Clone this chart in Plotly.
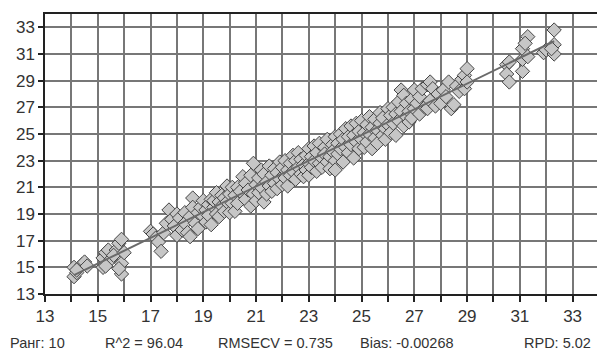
import numpy as np
import plotly.graph_objects as go

# Reference vs predicted values
ref_x = [
    14.1, 14.1, 14.2, 14.4, 14.5, 14.6, 14.2,
    15.2, 15.2, 15.3, 15.4, 15.5, 15.3, 15.7, 15.8, 15.9, 15.9, 15.9, 15.8, 15.6, 16.0,
    17.0, 17.1, 17.2, 17.3, 17.4, 17.5, 17.6, 17.7, 17.8, 17.9, 18.0, 18.0, 18.1, 18.2, 18.3, 18.3, 18.4, 18.5, 18.5, 18.6,
    18.6, 18.7, 18.8, 18.8, 18.9, 19.0, 19.0, 19.1, 19.1, 19.2, 19.2, 19.3, 19.3, 19.4, 19.4, 19.5, 19.5, 19.6, 19.6,
    19.7, 19.7, 19.8, 19.8, 19.9, 19.9, 20.0, 20.0, 20.1, 20.1, 20.2, 20.2, 20.3, 20.3, 20.4, 20.5,
    20.6, 20.6, 20.7, 20.8, 20.8, 20.9, 20.9, 21.0, 21.0, 21.1, 21.1, 21.2, 21.2, 21.3, 21.3, 21.4, 21.4, 21.5, 21.5,
    21.6, 21.6, 21.7, 21.7, 21.8, 21.8, 21.9, 21.9, 22.0, 22.0,
    22.1, 22.1, 22.2, 22.2, 22.3, 22.3, 22.4, 22.4, 22.5, 22.5, 22.6, 22.6, 22.7, 22.7, 22.8, 22.8, 22.9, 22.9,
    23.0, 23.0, 23.0, 23.1, 23.1, 23.2, 23.2, 23.3, 23.3, 23.4, 23.4, 23.5, 23.5, 23.6, 23.6, 23.7, 23.7,
    23.8, 23.8, 23.9, 23.9, 24.0, 24.0, 24.0,
    24.1, 24.1, 24.2, 24.2, 24.3, 24.3, 24.4, 24.4, 24.5, 24.5, 24.6, 24.6, 24.7, 24.7, 24.8, 24.8, 24.9, 24.9,
    25.0, 25.0, 25.1, 25.1, 25.2, 25.2, 25.3, 25.3, 25.4, 25.4, 25.5, 25.5, 25.6, 25.6, 25.7, 25.7, 25.8, 25.8,
    25.9, 25.9, 26.0, 26.0,
    26.1, 26.1, 26.2, 26.2, 26.3, 26.3, 26.4, 26.4, 26.5, 26.5, 26.6, 26.6, 26.7, 26.7, 26.8, 26.8, 26.9, 26.9,
    27.0, 27.0,
    27.1, 27.2, 27.2, 27.3, 27.4, 27.5, 27.5, 27.6, 27.6, 27.7, 27.8, 27.9, 28.0, 28.1, 28.2, 28.3, 28.4, 28.5,
    28.6, 28.7,
    28.8, 28.9, 28.9, 29.0, 29.0,
    30.5, 30.5, 30.6, 30.6, 31.1,
    31.1, 31.1, 31.3, 31.3, 31.2, 31.9, 32.0, 32.3, 32.3, 32.3, 32.2,
]
pred_y = [
    15.0, 14.3, 14.6, 15.2, 15.4, 15.1, 14.8,
    15.0, 15.7, 16.1, 16.3, 15.6, 15.1, 16.3, 16.8, 17.1, 15.3, 14.5, 14.9, 15.9, 16.1,
    17.7, 17.5, 17.2, 16.9, 16.2, 17.6, 18.3, 19.3, 18.6, 18.1, 17.4, 19.0, 18.7, 17.8, 19.1, 18.3, 17.6, 18.8, 17.3, 20.2,
    19.5, 18.3, 19.1, 17.9, 19.5, 18.8, 20.0, 19.3, 18.4, 19.7, 18.9, 20.1, 18.2, 19.5, 20.0, 19.0, 20.6, 19.9, 18.8,
    20.4, 19.6, 20.2, 19.2, 21.1, 19.9, 19.1, 20.5, 21.0, 19.8, 20.4, 19.2, 21.0, 19.8, 20.7, 21.8,
    20.1, 21.3, 20.8, 19.6, 21.9, 20.5, 22.8, 21.2, 20.0, 21.7, 20.6, 22.3, 21.0, 19.9, 22.0, 21.4, 20.5, 22.6, 21.1,
    20.7, 21.9, 22.4, 21.3, 20.9, 22.1, 21.6, 22.9, 21.2, 22.5,
    21.7, 23.0, 22.3, 21.1, 22.8, 21.9, 23.4, 22.2, 21.6, 23.0, 22.5, 23.6, 22.0, 23.1, 22.7, 21.8, 23.4, 22.3,
    23.9, 22.8, 21.9, 23.3, 22.5, 24.1, 23.0, 22.2, 23.6, 22.8, 24.3, 23.2, 22.5, 24.0, 23.5, 22.9, 24.6,
    23.3, 22.4, 24.2, 23.7, 23.0, 24.8, 22.3,
    24.3, 23.5, 25.0, 23.9, 22.9, 24.6, 24.0, 25.4, 23.6, 24.8, 24.2, 25.6, 23.2, 24.9, 24.4, 25.8, 23.9, 25.2,
    24.6, 26.0, 25.1, 24.0, 25.7, 24.4, 26.3, 25.0, 23.9, 25.5, 24.7, 26.1, 25.3, 24.3, 26.6, 25.8, 24.9, 26.2,
    25.4, 24.6, 26.9, 25.7,
    25.1, 26.4, 27.0, 25.8, 24.9, 26.5, 27.4, 26.0, 28.3, 26.7, 25.6, 27.9, 26.3, 27.3, 25.9, 26.7, 27.6, 26.2,
    28.3, 26.9,
    27.3, 26.5, 27.8, 28.4, 27.0, 26.9, 28.7, 28.9, 27.5, 28.4, 27.1, 28.0, 27.3, 28.3, 27.8, 28.9, 26.9, 27.2,
    28.6, 28.2,
    29.1, 29.4, 28.4, 29.9, 28.9,
    30.2, 29.5, 28.9, 30.4, 29.7,
    30.6, 31.4, 32.3, 30.8, 31.8, 31.1, 31.3, 32.8, 31.7, 31.0, 31.4,
]

x_tick_vals = list(range(13, 34))
x_tick_text = [str(v) if v % 2 == 1 else "" for v in x_tick_vals]
y_tick_vals = list(range(13, 34, 2))
y_tick_text = [str(v) for v in y_tick_vals]

stats_labels = ["Ранг: 10", "R^2 = 96.04", "RMSECV = 0.735", "Bias: -0.00268", "RPD: 5.02"]
stats_px = [8, 103, 216, 358, 522]

xa = np.array(ref_x)
ya = np.array(pred_y)
slope, intercept = np.polyfit(xa, ya, 1)
fit_x = [xa.min(), xa.max()]
fit_y = [slope * v + intercept for v in fit_x]

fig = go.Figure()
fig.add_trace(go.Scatter(
    x=ref_x, y=pred_y, mode="markers",
    marker=dict(symbol="diamond", size=11, color="#c6c6c6",
                line=dict(color="#454545", width=1)),
    showlegend=False, hoverinfo="skip",
))
fig.add_trace(go.Scatter(
    x=fit_x, y=fit_y, mode="lines",
    line=dict(color="#6a6a6a", width=2),
    showlegend=False, hoverinfo="skip",
))

# page body has an 8px margin: compensate so plot area sits at 45..599 x 12..294
OFF = 8
W, H = 605 - OFF, 359 - OFF
L, R, T, B = 45 - OFF, 6, 12 - OFF, 65
pw = W - L - R
ph = H - T - B
for lab, px in zip(stats_labels, stats_px):
    fig.add_annotation(
        text=lab, xref="paper", yref="paper",
        x=(px - 45) / pw, y=-(343 - 294) / ph,
        xanchor="left", yanchor="middle", showarrow=False,
        font=dict(family="Liberation Sans, Arial", size=14.5, color="#333333"),
    )

fig.update_layout(
    width=W, height=H,
    margin=dict(l=L, r=R, t=T, b=B),
    paper_bgcolor="white", plot_bgcolor="white",
    font=dict(family="Liberation Sans, Arial", size=17, color="#333333"),
    xaxis=dict(range=[13, 34], tickmode="array", tickvals=x_tick_vals, ticktext=x_tick_text,
               showgrid=True, gridcolor="#777777", gridwidth=1.5,
               ticks="outside", ticklen=6, tickcolor="#222222", tickwidth=1.5,
               showline=True, linecolor="#222222", linewidth=1.5, mirror=True,
               zeroline=False),
    yaxis=dict(range=[13, 34], tickmode="array", tickvals=y_tick_vals, ticktext=y_tick_text,
               showgrid=True, gridcolor="#777777", gridwidth=1.5,
               ticks="outside", ticklen=5, tickcolor="#222222", tickwidth=1.5,
               showline=True, linecolor="#222222", linewidth=1.5, mirror=True,
               zeroline=False),
)

fig.write_html("out.html")
